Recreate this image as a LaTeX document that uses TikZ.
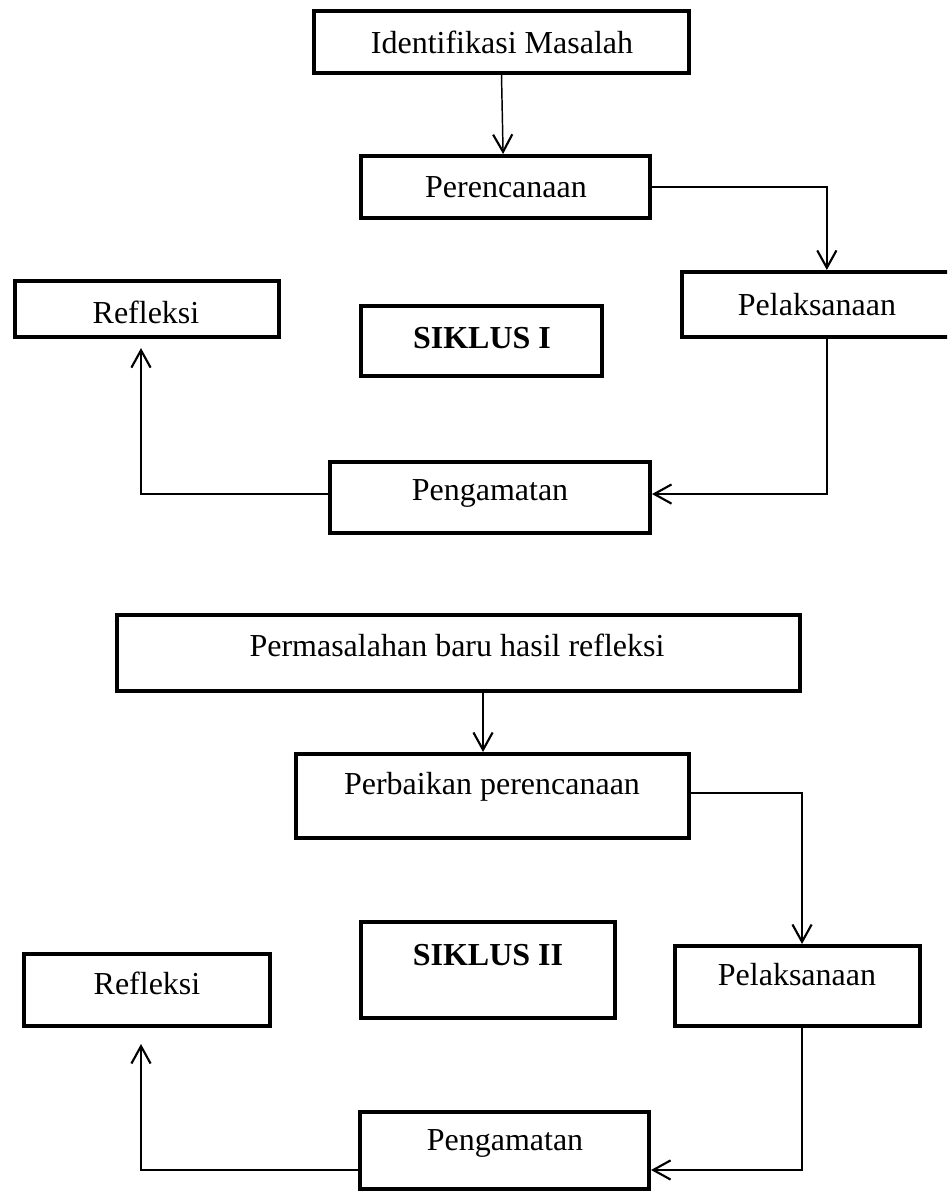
\documentclass[tikz,border=0pt]{standalone}
\usepackage{fontspec}
\setmainfont{Liberation Serif}
\usetikzlibrary{arrows.meta}
\begin{document}
\begin{tikzpicture}[x=0.375pt,y=-0.375pt,
  box/.style={draw,line width=1.5pt,inner sep=0pt,rectangle},
  txt/.style={inner sep=0pt,font=\fontsize{12}{14.4}\selectfont},
  btxt/.style={inner sep=0pt,font=\fontsize{12}{14.4}\selectfont\bfseries},
  conn/.style={line width=0.55pt,-{Straight Barb[length=6.5pt,width=7.2pt,line width=0.8pt]}},
  plain/.style={line width=0.55pt}]
\useasboundingbox (0,0) rectangle (947,1192);
\clip (0,0) rectangle (947,1192);
% ---- Siklus I ----
\node[box,minimum width=140.6pt,minimum height=23.25pt] (ident) at (501.5,42) {};
\node[box,minimum width=108.4pt,minimum height=23.25pt] (perenc) at (505.5,187) {};
\node[box,minimum width=101.6pt,minimum height=24.4pt] (pel1) at (817.5,304.5) {};
\node[box,minimum width=99pt,minimum height=21pt] (ref1) at (147,309) {};
\node[box,minimum width=90.4pt,minimum height=26.25pt] (sik1) at (481.5,341) {};
\node[box,minimum width=120pt,minimum height=26.6pt] (peng1) at (490,497.5) {};
\node[txt] (tident) at (502,42) {Identifikasi Masalah};
\node[txt] (tperenc) at (506,187) {Perencanaan};
\node[txt] (tpel1) at (817,305) {Pelaksanaan};
\node[txt] (tref1) at (146,312) {Refleksi};
\node[btxt] (tsik1) at (482,338) {SIKLUS I};
\node[txt] (tpeng1) at (490,493) {Pengamatan};
\draw[conn] (ident.south) -- ([xshift=-0.9pt]perenc.north);
\draw[conn] (perenc.east) -| ([xshift=3.5pt]pel1.north);
\draw[conn] ([xshift=3.5pt]pel1.south) |- ([yshift=1.3pt]peng1.east);
\draw[conn] ([yshift=1.3pt]peng1.west) -| ([xshift=-2.25pt,yshift=-3.4pt]ref1.south);
% ---- Siklus II ----
\node[box,minimum width=256.1pt,minimum height=28.5pt] (perm) at (458.5,653) {};
\node[box,minimum width=147.4pt,minimum height=31.5pt] (perb) at (492.5,796) {};
\node[box,minimum width=91.9pt,minimum height=30pt] (pel2) at (797.5,986) {};
\node[box,minimum width=92.25pt,minimum height=27pt] (ref2) at (147,990) {};
\node[box,minimum width=95.25pt,minimum height=36pt] (sik2) at (488,970) {};
\node[box,minimum width=108.4pt,minimum height=28.9pt] (peng2) at (504.5,1150.5) {};
\node[txt] (tperm) at (457,645) {Permasalahan baru hasil refleksi};
\node[txt] (tperb) at (492,787) {Perbaikan perencanaan};
\node[txt] (tpel2) at (797,975) {Pelaksanaan};
\node[txt] (tref2) at (147,983) {Refleksi};
\node[btxt] (tsik2) at (488,955) {SIKLUS II};
\node[txt] (tpeng2) at (505,1143) {Pengamatan};
\draw[conn] ([xshift=9.2pt]perm.south) -- ([xshift=9.2pt]perm.south |- perb.north);
\draw[conn] ([yshift=1.1pt]perb.east) -| ([xshift=1.7pt]pel2.north);
\draw[conn] ([xshift=1.7pt]pel2.south) |- ([yshift=-7.3pt]peng2.east);
\draw[conn] ([yshift=-7.3pt]peng2.west) -| ([xshift=-2.25pt,yshift=-6pt]ref2.south);
\end{tikzpicture}
\end{document}
